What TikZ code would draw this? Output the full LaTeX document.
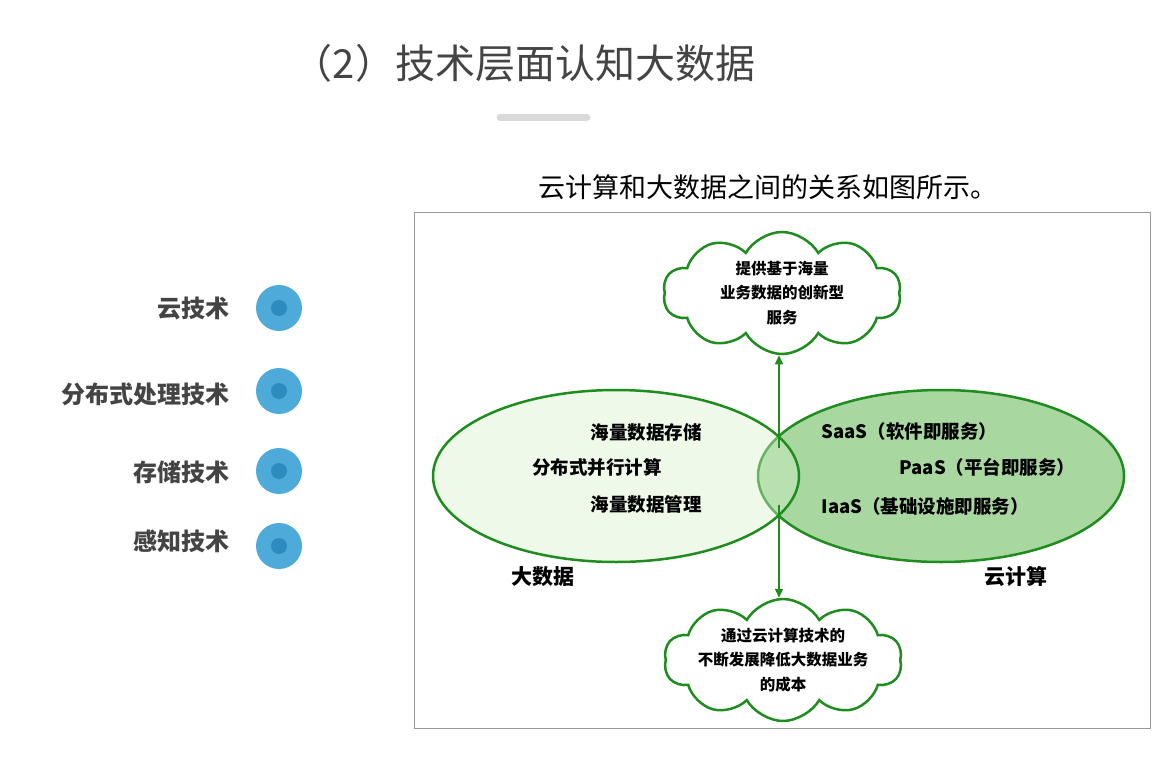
\documentclass[tikz,border=0pt]{standalone}
\usepackage{fontspec}
\setmainfont{Noto Sans CJK SC}
\usepackage{xcolor}
\usepackage{tikz}
\usetikzlibrary{shapes.symbols, shapes.geometric, arrows.meta, positioning}

\definecolor{venngreen}{HTML}{1E8C1E}
\definecolor{cloudfill}{HTML}{A8D8A0}
\definecolor{datafill}{HTML}{D4F0CA}
\definecolor{dotouter}{HTML}{4EAAD8}
\definecolor{dotinner}{HTML}{2E8BBF}
\definecolor{textgray}{HTML}{444444}

\tikzset{
  bubble/.style={cloud, draw=venngreen, line width=2.5pt, fill=white,
    cloud puffs=10, cloud puff arc=120, inner sep=0pt,
    minimum width=238, minimum height=122},
  bubbletext/.style={align=center, font=\fontsize{15.5}{24.5}\selectfont\bfseries},
  setlabel/.style={font=\fontsize{18.5}{22}\selectfont\bfseries},
  techlabel/.style={anchor=east, text=textgray, font=\fontsize{24}{28}\selectfont\bfseries}
}

\begin{document}
\begin{tikzpicture}[x=1pt, y=-1pt]
  \useasboundingbox (0,0) rectangle (1164,773);

  % Heading and separator
  \node[text=textgray, font=\fontsize{40}{46}\selectfont] (title) at (524,63) {（2）技术层面认知大数据};
  \draw[line width=7pt, line cap=round, color=black!15] (500,117.5) -- (587,117.5);

  % Caption above the frame
  \node[font=\fontsize{27}{32}\selectfont] (caption) at (768,187) {云计算和大数据之间的关系如图所示。};

  % Frame of the figure
  \draw[color=black!40, line width=1pt] (414,212) rectangle (1150,728);

  % Technology list with dots
  \foreach \y/\txt in {308/云技术, 394/分布式处理技术, 472/存储技术, 541/感知技术} {
    \node[techlabel] at (233,\y) {\txt};
  }
  \foreach \y in {308, 391, 471, 546} {
    \fill[dotouter] (279,\y) circle (23);
    \fill[dotinner] (279,\y) circle (8);
  }

  % Cloud computing set
  \node[ellipse, draw=venngreen, line width=2.5pt, fill=cloudfill,
        minimum width=366, minimum height=172] (cloudset) at (941,476) {};
  % Big data set, half transparent so the overlap shows
  \node[ellipse, draw=venngreen, line width=2.5pt, fill=datafill, fill opacity=0.4,
        minimum width=366, minimum height=172] (dataset) at (616,476) {};

  % Contents of the sets
  \node[setlabel] (store) at (646,432) {海量数据存储};
  \node[setlabel] (parallel) at (597,467) {分布式并行计算};
  \node[setlabel] (manage) at (646,504) {海量数据管理};
  \node[setlabel, anchor=west] (saas) at (818,431) {SaaS（软件即服务）};
  \node[setlabel, anchor=west] (paas) at (896,467) {PaaS（平台即服务）};
  \node[setlabel, anchor=west] (iaas) at (818,506) {IaaS（基础设施即服务）};
  \node[font=\fontsize{21}{24}\selectfont\bfseries] (bigdata) at (543,577) {大数据};
  \node[font=\fontsize{21}{24}\selectfont\bfseries] (cloudcomp) at (1016,577) {云计算};

  % The two outcome clouds
  \node[bubble] (service) at (782,293) {};
  \node[bubbletext] (servicetext) at (service.center) {提供基于海量\\业务数据的创新型\\服务};
  \node[bubble] (cost) at (783,660) {};
  \node[bubbletext] (costtext) at (cost.center) {通过云计算技术的\\不断发展降低大数据业务\\的成本};

  % Arrows out of the overlap
  \coordinate (lenstop) at (779,448);
  \coordinate (lensbot) at (779,505);
  \draw[venngreen, line width=1.6pt, -{Triangle[length=9pt, width=8pt]}] (lenstop) -- (lenstop |- service.south);
  \draw[venngreen, line width=1.6pt, -{Triangle[length=9pt, width=8pt]}] (lensbot) -- (lensbot |- cost.north);

\end{tikzpicture}
\end{document}
